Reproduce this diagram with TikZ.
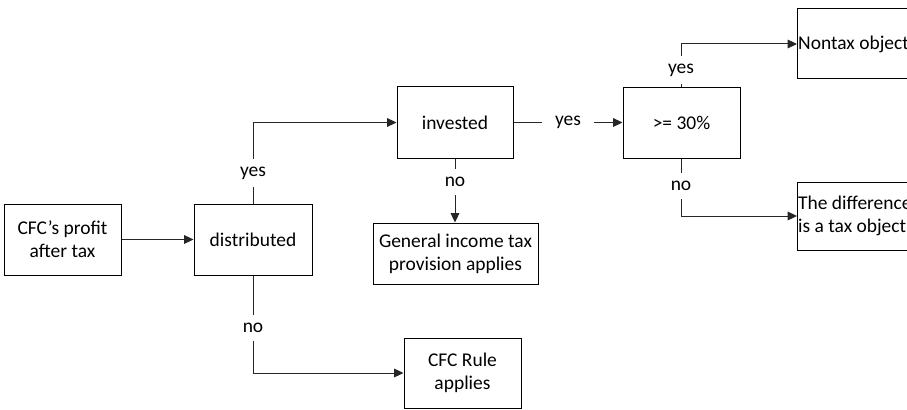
\documentclass[tikz,border=0pt]{standalone}
\usepackage{fontspec}
\setmainfont{Carlito}
\usetikzlibrary{arrows.meta}
\begin{document}
\begin{tikzpicture}[x=0.75pt,y=-0.75pt,
  txt/.style={font=\fontsize{14.6}{17}\selectfont},
  box/.style={txt, draw=black, line width=0.75pt, inner sep=1pt, align=center},
  cutbox/.style={txt, draw=black, line width=0.75pt, inner xsep=0.4pt, inner ysep=0pt, align=flush left, text width=104pt, anchor=west},
  conn/.style={draw=black!85, line width=0.75pt},
  arr/.style={conn, -{Triangle[length=7pt,width=6.5pt]}},
  lbl/.style={txt, fill=white, inner xsep=10pt, inner ysep=6pt}]
\clip (0,0) rectangle (907,410);
\node[box, minimum width=87.75pt, minimum height=53.25pt] (cfc) at (62.5,239.5) {CFC’s profit\\after tax};
\node[box, minimum width=88.5pt, minimum height=53.25pt] (dist) at (253,239.5) {distributed};
\node[box, minimum width=87pt, minimum height=53.25pt] (inv) at (455,122.5) {invested};
\node[box, minimum width=123.75pt, minimum height=45.75pt] (gen) at (455.5,253.5) {General income tax\\provision applies};
\node[box, minimum width=87.75pt, minimum height=52.5pt] (pct) at (681.5,123) {>= 30\%};
\node[cutbox, minimum width=105pt, minimum height=52.5pt] (nontax) at (797,44) {Nontax object};
\node[cutbox, minimum width=105pt, minimum height=51pt] (diff) at (797,216) {The difference\\is a tax object};
\node[box, minimum width=87.75pt, minimum height=52.5pt] (rule) at (462.5,373) {CFC Rule\\applies};

\draw[arr] (cfc) -- (dist);
\draw[arr] (dist.north) |- (inv.west);
\draw[arr] (dist.south) |- (rule.west);
\draw[arr] (inv.south) -- (inv.south |- gen.north);
\draw[arr] (inv.east) -- (inv.east -| pct.west);
\draw[arr] (pct.north) |- (nontax.west);
\draw[arr] (pct.south) |- (diff.west);

\node[lbl] (l1) at (253,173) {yes};
\node[lbl] (l2) at (253,328) {no};
\node[lbl] (l3) at (455,182) {no};
\node[lbl] (l4) at (568,122) {yes};
\node[lbl] (l5) at (681,70) {yes};
\node[lbl] (l6) at (681,186) {no};
\end{tikzpicture}
\end{document}
